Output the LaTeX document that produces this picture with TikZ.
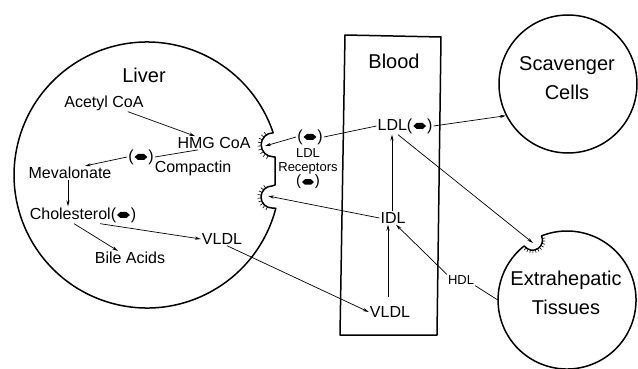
\documentclass[tikz,border=0pt]{standalone}
\usepackage{fontspec}
\setmainfont{Liberation Sans}
\usetikzlibrary{arrows.meta}
\newcommand{\cholbare}{\tikz[baseline=0pt]\fill (-0.4em,0.26em) -- (-0.18em,0.46em) -- (0.18em,0.46em) -- (0.4em,0.26em) -- (0.2em,0.08em) -- (-0.2em,0.08em) -- cycle;}
\newcommand{\cholsym}{(\kern0.06em\cholbare\kern0.06em)}
\begin{document}
\begin{tikzpicture}[x=1pt,y=-1pt,
  big/.style={font=\fontsize{20}{29}\selectfont, inner sep=1pt, align=center},
  med/.style={font=\fontsize{16}{18}\selectfont, inner sep=1pt},
  sml/.style={font=\fontsize{13}{14}\selectfont, inner sep=1pt, align=center},
  con/.style={line width=0.7pt},
  arr/.style={con, -{Stealth[length=6pt,width=3.2pt]}},
  outline/.style={line width=1.5pt, line join=round},
  hair/.style={line width=0.6pt}]
\useasboundingbox (0,0) rectangle (638,369);

% Liver outline with two receptor notches
\draw[outline] (275.8,208.3) arc[start angle=14.5, end angle=341.5, radius=133]
  arc[start angle=270, end angle=90, radius=12] -- (275,157) -- (275,185) -- (272,186)
  arc[start angle=270, end angle=90, radius=11] -- cycle;
\begin{scope}[shift={(273.1,144.8)}]
  \foreach \a in {115,130,...,245} \draw[hair] (\a:12) -- (\a:15.5);
\end{scope}
\begin{scope}[shift={(272,197)}]
  \foreach \a in {115,130,...,245} \draw[hair] (\a:11) -- (\a:14.5);
\end{scope}
\coordinate (n1) at (265,146);
\coordinate (n2) at (268,196);

% Blood box
\draw[outline] (345,35) -- (441,37) -- (437,335) -- (340,335) -- cycle;

% Scavenger cells
\node[draw, circle, line width=1.5pt, minimum size=138pt, inner sep=0pt] (scavc) at (568,84) {};

% Extrahepatic tissues with notch
\node[circle, minimum size=138pt, inner sep=0pt] (extrac) at (567,300) {};
\draw[outline] (541.5,235.9) arc[start angle=248.3, end angle=591.7, radius=69]
  arc[start angle=145.5, end angle=-25.5, radius=10] -- cycle;
\begin{scope}[shift={(532.5,240.2)}]
  \foreach \a in {-10,4,...,130} \draw[hair] (\a:10) -- (\a:13);
\end{scope}
\coordinate (en) at (533,243);

% Labels
\node[big] (liver) at (144,75) {Liver};
\node[med] (acetyl) at (104,103) {Acetyl CoA};
\node[med] (hmg) at (214,143) {HMG CoA};
\node[med] (inh) at (141,157) {\cholsym};
\node[med] (compactin) at (193,168) {Compactin};
\node[med] (meval) at (70,173) {Mevalonate};
\node[med] (chol) at (83,215) {Cholesterol\cholsym};
\node[med] (bile) at (130,258) {Bile Acids};
\node[med] (vldlL) at (222,239) {VLDL};
\node[big] (blood) at (394,61) {Blood};
\node[med] (ldl) at (405,126) {LDL\cholsym};
\node[med] (sym1) at (310,137) {\cholsym};
\node[sml] (rec) at (308,169) {LDL\\Receptors\\{\fontsize{15}{15}\selectfont\cholsym}};
\node[med] (idl) at (393,218) {IDL};
\node[med] (vldlB) at (390,312) {VLDL};
\node[sml] (hdl) at (461,280) {HDL};
\node[big] (scavt) at (567,78) {Scavenger\\Cells};
\node[big] (extrat) at (566,293) {Extrahepatic\\Tissues};

% Connectors
\draw[arr] (acetyl) -- (hmg);
\draw[con] ([xshift=-16pt]hmg.south) -- (inh.east);
\draw[arr] (inh.west) -- ([xshift=15pt]meval.north);
\draw[arr] ([xshift=-2pt]meval.south) -- ([xshift=-15pt]chol.north);
\draw[arr] ([xshift=-9pt]chol.south) -- ([xshift=-12pt]bile.north);
\draw[arr] ([xshift=17pt]chol.south) -- (vldlL.west);
\draw[arr] ([xshift=5pt]vldlL.south) -- (vldlB.west);
\draw[arr] ([xshift=-2pt,yshift=8pt]vldlB.north) -- ([xshift=-5pt]idl.south);
\draw[arr] (idl.west) -- (n2);
\draw[arr] ([xshift=-1pt]idl.north) -- ([xshift=-1pt]idl.north |- ldl.south);
\draw[con] (ldl.west) -- (sym1.east);
\draw[arr] (sym1.west) -- (n1);
\draw[arr] (ldl.east) -- (scavc.207);
\draw[arr] ([xshift=-7pt]ldl.south) -- (en);
\draw[con] (extrac.180) -- (hdl.south east);
\draw[arr] (hdl.north west) -- ([xshift=3pt]idl.south);
\end{tikzpicture}
\end{document}
